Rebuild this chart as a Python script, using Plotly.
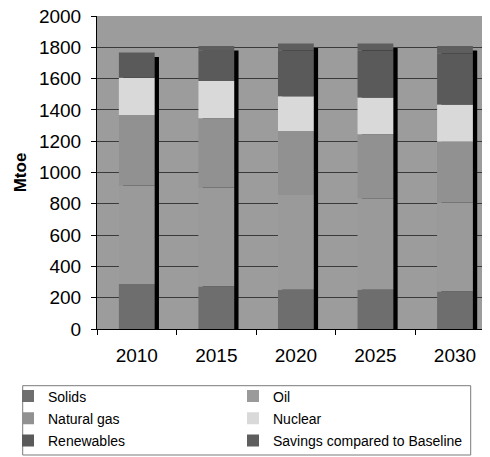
import plotly.graph_objects as go

years = ["2010", "2015", "2020", "2025", "2030"]
solids = [287, 272, 251, 251, 240]
oil = [629, 631, 606, 585, 567]
natural_gas = [451, 443, 408, 408, 390]
nuclear = [238, 238, 223, 236, 238]
renewables = [162, 195, 290, 300, 324]
savings = [0, 30, 46, 44, 50]

# (name, values, colour, legend column)
series = [
    ("Solids", solids, "#6e6e6e", "legend"),
    ("Oil", oil, "#9a9a9a", "legend2"),
    ("Natural gas", natural_gas, "#919191", "legend"),
    ("Nuclear", nuclear, "#d9d9d9", "legend2"),
    ("Renewables", renewables, "#5a5a5a", "legend"),
    ("Savings compared to Baseline", savings, "#5e5e5e", "legend2"),
]

# the page places the figure 8px in from the window corner
OFF = 8
W, H = 490 - OFF, 457 - OFF
ML, MR = 97 - OFF, 0
MT = 16 - OFF
MB = H - (329 - OFF)
PW, PH = W - ML - MR, H - MT - MB
YMAX = 2000
BAR_W = 0.45
SHADOW_DX = 0.054
SHADOW_DROP = 4.5 * YMAX / PH

totals = [sum(v) for v in zip(*[s[1] for s in series])]

fig = go.Figure()

# drop shadow behind each stacked bar
fig.add_trace(go.Bar(
    x=years, y=[t - SHADOW_DROP for t in totals], base=0,
    width=BAR_W, offset=-BAR_W / 2 + SHADOW_DX,
    marker=dict(color="#000000", line=dict(width=0)),
    showlegend=False, hoverinfo="skip",
))

base = [0] * len(years)
for name, vals, col, leg in series:
    fig.add_trace(go.Bar(
        name=name, x=years, y=vals, base=list(base),
        width=BAR_W, offset=-BAR_W / 2,
        marker=dict(color=col, line=dict(width=0)),
        legend=leg, legendgroup=name,
    ))
    base = [b + v for b, v in zip(base, vals)]

font = "Liberation Sans, Arial, sans-serif"

def px_x(p):
    return (p - OFF - ML) / PW

def px_y(p):
    return (H - MB - (p - OFF)) / PH

legend_common = dict(
    orientation="v", yanchor="top", xanchor="left",
    font=dict(size=14, family=font), bgcolor="rgba(0,0,0,0)", borderwidth=0,
    traceorder="grouped", tracegroupgap=1,
)

fig.update_layout(
    width=W, height=H,
    margin=dict(l=ML, r=MR, t=MT, b=MB, pad=0, autoexpand=False),
    barmode="overlay",
    paper_bgcolor="white",
    plot_bgcolor="#9c9c9c",
    font=dict(family=font, color="#000000", size=17),
    xaxis=dict(
        type="category", range=[-0.5, 4.44], automargin=False,
        showline=True, linecolor="#000000", linewidth=1,
        ticks="outside", tickson="boundaries", ticklen=5, tickcolor="#000000",
        showgrid=False, tickfont=dict(size=19), ticklabelstandoff=9,
        ticklabeloverflow="allow",
    ),
    yaxis=dict(
        range=[0, YMAX], tickvals=list(range(0, 2001, 200)), automargin=False,
        showline=True, linecolor="#000000", linewidth=1,
        ticks="outside", ticklen=5, tickcolor="#000000",
        showgrid=True, gridcolor="#3a3a3a", gridwidth=1,
        tickfont=dict(size=19), ticklabelstandoff=6, ticklabeloverflow="allow",
        zeroline=False,
        title=dict(text="<b>Mtoe</b>", font=dict(size=17), standoff=7),
    ),
    legend=dict(x=px_x(8), y=px_y(380.5), **legend_common),
    legend2=dict(x=px_x(233), y=px_y(380.5), **legend_common),
    shapes=[dict(
        type="rect", xref="paper", yref="paper",
        x0=px_x(22.7), x1=px_x(470.7), y0=px_y(455), y1=px_y(385.7),
        line=dict(color="#7a7a7a", width=1), fillcolor="rgba(0,0,0,0)",
    )],
)

fig.write_html("out.html")
